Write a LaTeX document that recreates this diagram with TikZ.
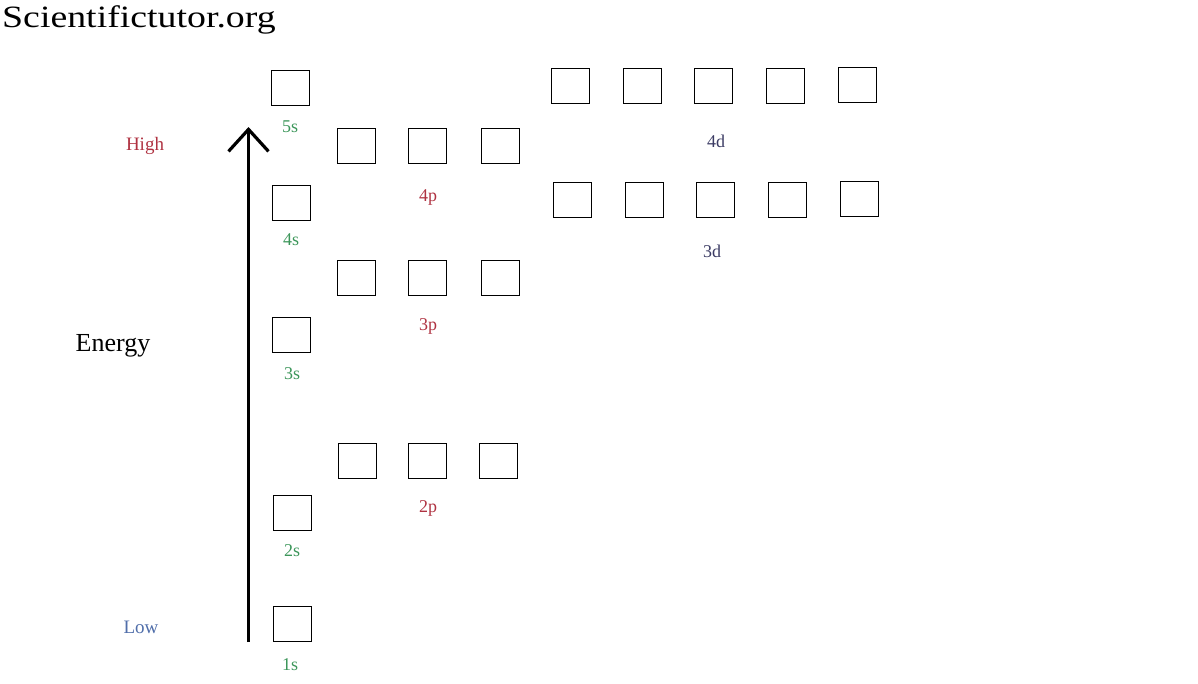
\documentclass[tikz,border=0pt]{standalone}
\usepackage{fontspec}
\setmainfont{Liberation Serif}
\newfontfamily\titlefont[FakeStretch=1.22]{Liberation Serif}
\usetikzlibrary{arrows.meta}
\definecolor{sgreen}{RGB}{60,150,90}
\definecolor{pred}{RGB}{175,50,65}
\definecolor{dblue}{RGB}{60,60,100}
\definecolor{lblue}{RGB}{80,110,170}
\tikzset{
  orb/.style={draw=black, line width=1.4pt, minimum width=38pt, minimum height=35pt, inner sep=0pt},
  lab/.style={inner sep=0pt, font=\fontsize{18}{21}\selectfont},
  slab/.style={lab, text=sgreen},
  plab/.style={lab, text=pred},
  dlab/.style={lab, text=dblue},
}
\begin{document}
\begin{tikzpicture}[x=1pt,y=-1pt]
\useasboundingbox (0,0) rectangle (1198,683);
\node[anchor=base west, inner sep=0pt, font=\titlefont\fontsize{31}{36}\selectfont] (title) at (2,27) {Scientifictutor.org};
% s orbitals
\node[orb] (o5s) at (290.5,88) {};
\node[orb] (o4s) at (291.5,203) {};
\node[orb] (o3s) at (291.5,335) {};
\node[orb] (o2s) at (292.5,513) {};
\node[orb] (o1s) at (292.5,624) {};
% p orbitals
\node[orb] (o4pa) at (356.5,146) {};
\node[orb] (o4pb) at (427.5,146) {};
\node[orb] (o4pc) at (500.5,146) {};
\node[orb] (o3pa) at (356.5,278) {};
\node[orb] (o3pb) at (427.5,278) {};
\node[orb] (o3pc) at (500.5,278) {};
\node[orb] (o2pa) at (357.5,461) {};
\node[orb] (o2pb) at (427.5,461) {};
\node[orb] (o2pc) at (498.5,461) {};
% d orbitals
\node[orb] (o4da) at (570.5,86) {};
\node[orb] (o4db) at (642.5,86) {};
\node[orb] (o4dc) at (713.5,86) {};
\node[orb] (o4dd) at (785.5,86) {};
\node[orb] (o4de) at (857.5,85) {};
\node[orb] (o3da) at (572.5,200) {};
\node[orb] (o3db) at (644.5,200) {};
\node[orb] (o3dc) at (715.5,200) {};
\node[orb] (o3dd) at (787.5,200) {};
\node[orb] (o3de) at (859.5,199) {};
% labels
\node[slab] (l5s) at (290,127) {5s};
\node[slab] (l4s) at (291,240) {4s};
\node[slab] (l3s) at (292,374) {3s};
\node[slab] (l2s) at (292,551) {2s};
\node[slab] (l1s) at (290,665) {1s};
\node[plab] (l4p) at (428,197) {4p};
\node[plab] (l3p) at (428,326) {3p};
\node[plab] (l2p) at (428,508) {2p};
\node[dlab] (l4d) at (716,141) {4d};
\node[dlab] (l3d) at (712,251) {3d};
\node[lab, text=pred, font=\fontsize{19}{22}\selectfont] (high) at (145,146) {High};
\node[lab, text=lblue, font=\fontsize{19}{22}\selectfont] (low) at (141,627) {Low};
\node[inner sep=0pt, font=\fontsize{26}{30}\selectfont] (energy) at (113,346) {Energy};
% energy arrow
\coordinate (abot) at (248.5,642);
\coordinate (atop) at (248.5,127);
\draw[line width=3.6pt, -{Straight Barb[length=22pt, width=40pt, line width=3.2pt]}] (abot) -- (atop);
\end{tikzpicture}
\end{document}
